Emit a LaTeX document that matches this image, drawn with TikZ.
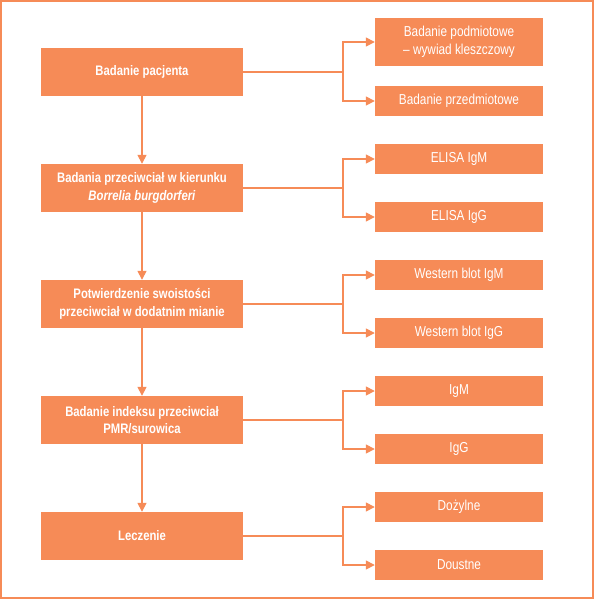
\documentclass[tikz,border=0pt]{standalone}
\usepackage{fontspec}
\setmainfont{Liberation Sans}[FakeStretch=0.82]
\usetikzlibrary{arrows.meta}
\definecolor{org}{RGB}{246,139,87}
\tikzset{
  every node/.style={font=\fontsize{14}{17.5}\selectfont},
  lbox/.style={fill=org, text=white, minimum width=202pt, minimum height=48pt, inner sep=0pt, align=center, font=\fontsize{13.8}{17.5}\selectfont\bfseries},
  rbox/.style={fill=org, text=white, minimum width=168pt, minimum height=30pt, inner sep=0pt, align=center, font=\fontsize{14.4}{18}\selectfont},
  conn/.style={draw=org, line width=1.5pt},
  arr/.style={conn, -{Triangle[length=9pt,width=9pt]}}
}
\begin{document}
\begin{tikzpicture}[x=1pt,y=-1pt]
\useasboundingbox (0,0) rectangle (595,600);
\draw[org, line width=1.6pt] (1,1) rectangle (593,598);
% left column
\node[lbox] (L0) at (142,72) {Badanie pacjenta};
\node[lbox] (L1) at (142,188) {Badania przeciwciał w kierunku\\\textit{Borrelia burgdorferi}};
\node[lbox] (L2) at (142,304) {Potwierdzenie swoistości\\przeciwciał w dodatnim mianie};
\node[lbox] (L3) at (142,420) {Badanie indeksu przeciwciał\\PMR/surowica};
\node[lbox] (L4) at (142,536) {Leczenie};
% right column
\node[rbox, minimum height=48pt] (A0) at (459,42) {Badanie podmiotowe\\– wywiad kleszczowy};
\node[rbox] (B0) at (459,101) {Badanie przedmiotowe};
\node[rbox] (A1) at (459,159) {ELISA IgM};
\node[rbox] (B1) at (459,217) {ELISA IgG};
\node[rbox] (A2) at (459,275) {Western blot IgM};
\node[rbox] (B2) at (459,333) {Western blot IgG};
\node[rbox] (A3) at (459,391) {IgM};
\node[rbox] (B3) at (459,449) {IgG};
\node[rbox] (A4) at (459,507) {Dożylne};
\node[rbox] (B4) at (459,565) {Doustne};
% vertical arrows
\draw[arr] (L0) -- (L1);
\draw[arr] (L1) -- (L2);
\draw[arr] (L2) -- (L3);
\draw[arr] (L3) -- (L4);
% branches
\foreach \k in {0,...,4}{
  \coordinate (J\k) at (343,72+116*\k);
  \draw[conn] (L\k.east) -- (J\k);
  \draw[arr] (J\k) |- (A\k.west);
  \draw[arr] (J\k) |- (B\k.west);
}
\end{tikzpicture}
\end{document}
